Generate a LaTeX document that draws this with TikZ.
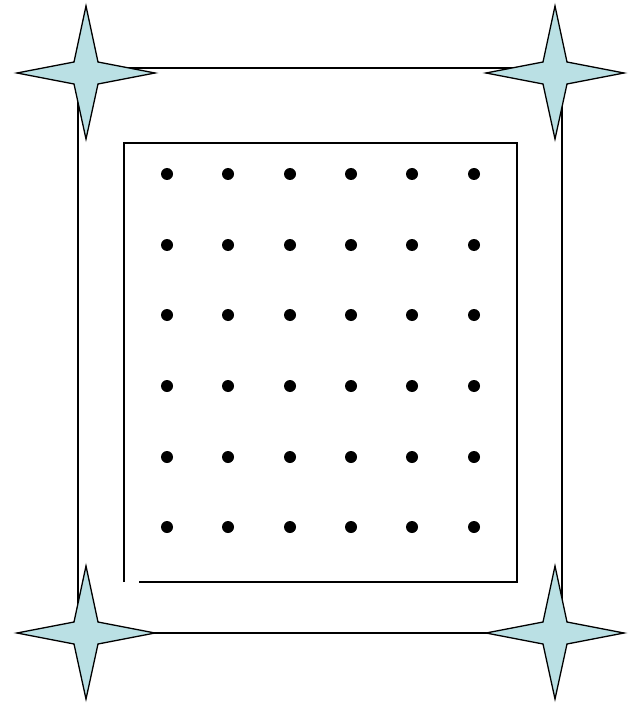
\documentclass[tikz,border=0pt]{standalone}
\definecolor{starfill}{RGB}{186,224,228}
\begin{document}
\begin{tikzpicture}[x=1pt,y=-1pt,
  outerbox/.style={draw=black,line width=1.8pt},
  innerbox/.style={draw=black,line width=1.3pt},
  dotmark/.style={fill=black},
  starshape/.style={draw=black,fill=starfill,line width=1.3pt,line join=miter}]
\useasboundingbox (0,0) rectangle (638,703);
% outer rectangle
\draw[outerbox] (78,68) rectangle (562,633);
% inner frame (gap at bottom-left)
\coordinate (ia) at (124,582);
\coordinate (ib) at (124,143);
\coordinate (ic) at (517,143);
\coordinate (id) at (517,582);
\coordinate (ie) at (139,582);
\draw[innerbox] (ia) -- (ib) -- (ic) -- (id) -- (ie);
% dots
\foreach \x in {167,228,290,351,412,474}
  \foreach \y in {174,245,315,386,457,527}
    \fill[dotmark] (\x,\y) circle (6);
% stars
\foreach \cx/\cy/\n in {86/73/a,555/73/b,86/633/c,555/633/d}{
  \draw[starshape] (\cx,\cy-67) -- (\cx+12,\cy-11) -- (\cx+69,\cy) -- (\cx+12,\cy+11)
    -- (\cx,\cy+66) -- (\cx-12,\cy+11) -- (\cx-69,\cy) -- (\cx-12,\cy-11) -- cycle;
}
\end{tikzpicture}
\end{document}
